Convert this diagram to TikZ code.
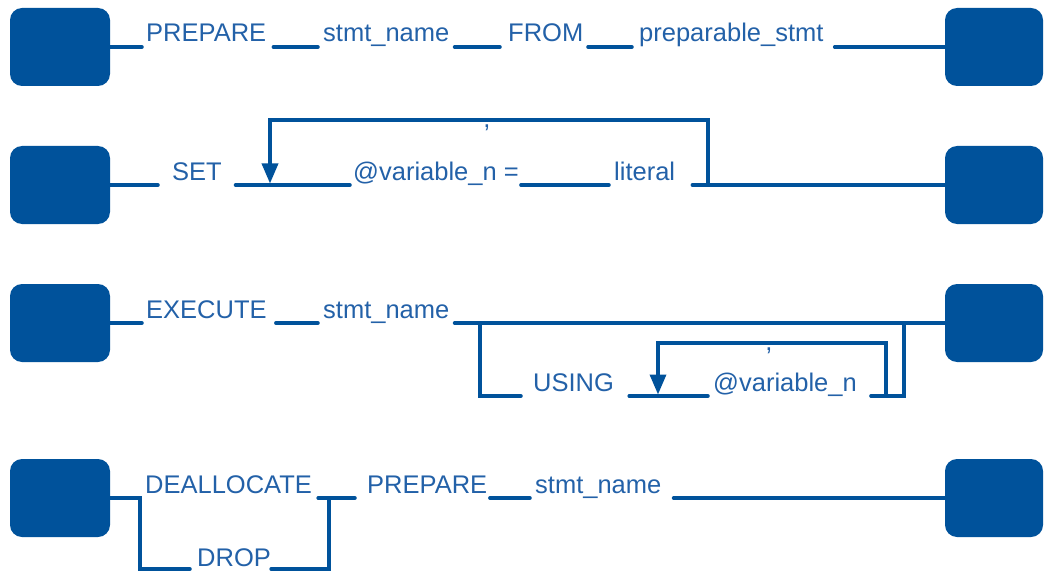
\documentclass[tikz,border=0pt]{standalone}
\usepackage{fontspec}
\setmainfont{Liberation Sans}
\usetikzlibrary{arrows.meta}
\definecolor{boxblue}{RGB}{0,82,155}
\definecolor{txtblue}{RGB}{35,97,168}

\begin{document}
\begin{tikzpicture}[x=1pt,y=-1pt,
  endbox/.style={fill=boxblue, rounded corners=12pt, minimum width=100pt, minimum height=78pt, inner sep=0},
  rbox/.style={endbox, minimum width=98pt},
  word/.style={anchor=base west, inner sep=0, text=txtblue, font=\fontsize{25.5}{30}\selectfont},
  ln/.style={draw=boxblue, line width=3.5pt, line cap=round},
  loopln/.style={draw=boxblue, line width=3.5pt},
  tip/.style={-{Triangle[width=16pt,length=20pt]}}
]
\useasboundingbox (0,0) rectangle (1048,572);

% ---------- PREPARE stmt_name FROM preparable_stmt ----------
\node[endbox] (s1) at (60,47) {};
\node[rbox]   (e1) at (994,47) {};
\node[word] (prep1)  at (146,42) {PREPARE};
\node[word] (name1)  at (323,42) {stmt\_name};
\node[word] (from1)  at (508,42) {FROM};
\node[word] (pstmt1) at (639,42) {preparable\_stmt};
\draw[ln] (s1.east) -- ([xshift=-4pt,yshift=-5pt]prep1.base west);
\draw[ln] ([xshift=7pt,yshift=-5pt]prep1.base east) -- ([xshift=-5pt,yshift=-5pt]name1.base west);
\draw[ln] ([xshift=5pt,yshift=-5pt]name1.base east) -- ([xshift=-8pt,yshift=-5pt]from1.base west);
\draw[ln] ([xshift=4.5pt,yshift=-5pt]from1.base east) -- ([xshift=-7pt,yshift=-5pt]pstmt1.base west);
\draw[ln] ([xshift=11pt,yshift=-5pt]pstmt1.base east) -- (e1.west);

% ---------- SET @variable_n = literal [, ...] ----------
\node[endbox] (s2) at (60,185) {};
\node[rbox]   (e2) at (994,185) {};
\node[word] (set2) at (172,180) {SET};
\node[word] (var2) at (353,180) {@variable\_n =};
\node[word] (lit2) at (614,180) {literal};
\node[word, anchor=base] (c2) at (487,128) {,};
\coordinate (j2in)  at (270,185);
\coordinate (j2out) at (708,185);
\draw[ln] (s2.east) -- ([xshift=-14pt,yshift=-5pt]set2.base west);
\draw[ln] ([xshift=13.5pt,yshift=-5pt]set2.base east) -- ([xshift=-3pt,yshift=-5pt]var2.base west);
\draw[ln] ([xshift=2pt,yshift=-5pt]var2.base east) -- ([xshift=-5pt,yshift=-5pt]lit2.base west);
\draw[ln] ([xshift=17pt,yshift=-5pt]lit2.base east) -- (e2.west);
\draw[loopln,tip] (j2out) -- ++(0,-65) -| ([yshift=1.5pt]j2in);

% ---------- EXECUTE stmt_name [USING @variable_n [, ...]] ----------
\node[endbox] (s3) at (60,323) {};
\node[rbox]   (e3) at (994,323) {};
\node[word] (exec3)  at (146,318) {EXECUTE};
\node[word] (name3)  at (323,318) {stmt\_name};
\node[word] (using3) at (533,391) {USING};
\node[word] (var3)   at (713,391) {@variable\_n};
\node[word, anchor=base] (c3) at (769,350) {,};
\coordinate (j3a) at (480,323);
\coordinate (j3b) at (904,323);
\coordinate (j3c) at (658,396);
\coordinate (j3d) at (886,396);
\draw[ln] (s3.east) -- ([xshift=-4pt,yshift=-5pt]exec3.base west);
\draw[ln] ([xshift=9pt,yshift=-5pt]exec3.base east) -- ([xshift=-5pt,yshift=-5pt]name3.base west);
\draw[ln] ([xshift=5pt,yshift=-5pt]name3.base east) -- (e3.west);
\draw[ln] (j3a) |- ([xshift=-12pt,yshift=-5pt]using3.base west);
\draw[ln] ([xshift=15pt,yshift=-5pt]using3.base east) -- ([xshift=-5pt,yshift=-5pt]var3.base west);
\draw[ln] ([xshift=14pt,yshift=-5pt]var3.base east) -| (j3b);
\draw[loopln,tip] (j3d) -- ++(0,-53) -| ([yshift=1.5pt]j3c);

% ---------- {DEALLOCATE | DROP} PREPARE stmt_name ----------
\node[endbox] (s4) at (60,498) {};
\node[rbox]   (e4) at (994,498) {};
\node[word] (deal4) at (145,493) {DEALLOCATE};
\node[word] (drop4) at (197,566) {DROP};
\node[word] (prep4) at (367,493) {PREPARE};
\node[word] (name4) at (535,493) {stmt\_name};
\coordinate (j4a) at (140,498);
\coordinate (j4b) at (329,498);
\draw[ln] (s4.east) -- (j4a) |- ([xshift=-7pt,yshift=-3pt]drop4.base west);
\draw[ln] ([yshift=-3pt]drop4.base east) -| (j4b);
\draw[ln] ([xshift=6pt,yshift=-5pt]deal4.base east) -- ([xshift=-12pt,yshift=-5pt]prep4.base west);
\draw[ln] ([xshift=2.5pt,yshift=-5pt]prep4.base east) -- ([xshift=-5pt,yshift=-5pt]name4.base west);
\draw[ln] ([xshift=12pt,yshift=-5pt]name4.base east) -- (e4.west);
\end{tikzpicture}
\end{document}
